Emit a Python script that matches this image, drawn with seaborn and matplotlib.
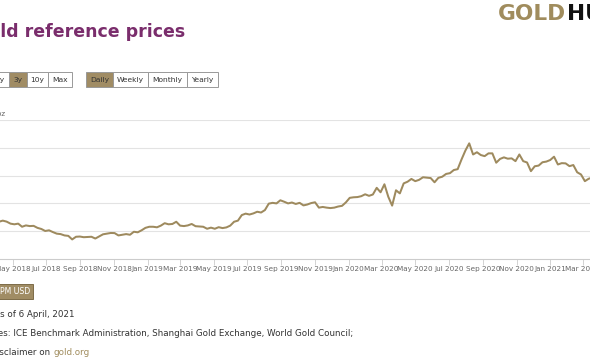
import matplotlib
matplotlib.use("Agg")
import matplotlib.pyplot as plt
import matplotlib.dates as mdates
from matplotlib.patches import Rectangle
import seaborn as sns
import pandas as pd

# ---------------- data ----------------
start_date = "2018-04-06"
n_weeks = 157
last_date = "2021-04-06"
prices_usd = [
    # 2018 (from Apr 6, weekly)
    1335, 1345, 1336, 1318, 1312, 1318, 1290, 1302, 1296, 1298, 1280, 1270, 1252,
    1258, 1242, 1228, 1224, 1212, 1208, 1176, 1200, 1202, 1196, 1198, 1200, 1184,
    1203, 1222, 1228, 1234, 1233, 1212, 1218, 1224, 1218, 1245, 1240, 1258, 1280,
    # 2019
    1290, 1290, 1285, 1300, 1322, 1312, 1315, 1335, 1300, 1296, 1302, 1315, 1295,
    1292, 1290, 1272, 1282, 1272, 1286, 1278, 1284, 1300, 1335, 1345, 1395, 1408,
    1400, 1410, 1425, 1418, 1440, 1498, 1505, 1500, 1528, 1515, 1500, 1508, 1495,
    1505, 1482, 1490, 1503, 1510, 1462, 1468, 1462, 1458, 1462, 1472, 1478, 1509,
    # 2020
    1550, 1555, 1557, 1565, 1582, 1568, 1580, 1640, 1600, 1672, 1560, 1480, 1618,
    1590, 1680, 1695, 1720, 1700, 1712, 1735, 1732, 1728, 1690, 1730, 1740, 1765,
    1772, 1800, 1808, 1895, 1975, 2040, 1940, 1960, 1935, 1925, 1950, 1950, 1866,
    1900, 1914, 1902, 1905, 1880, 1940, 1880, 1868, 1790, 1834, 1840, 1870, 1876,
    # 2021
    1890, 1920, 1850, 1862, 1860, 1835, 1845, 1780, 1760, 1700, 1722, 1733, 1728,
    1729, 1740,
]
y_ticks = [1250, 1500, 1750, 2000, 2250]
y_min, y_max = 1000, 2250
title_text = "Gold reference prices"
unit_text = "US$/oz"
logo_parts = ["GOLD", "HUB"]
range_buttons = ["1y", "3y", "10y", "Max"]
range_selected = "3y"
freq_buttons = ["Daily", "Weekly", "Monthly", "Yearly"]
freq_selected = "Daily"
series_button = "PM USD"
asof_text = "As of 6 April, 2021"
sources_text = "Sources: ICE Benchmark Administration, Shanghai Gold Exchange, World Gold Council;"
disclaimer_text = "Disclaimer on "
disclaimer_link = "gold.org"

dates = list(pd.date_range(start_date, periods=n_weeks, freq="7D")) + [pd.Timestamp(last_date)]
df = pd.DataFrame({"date": dates, "price": prices_usd})

# ---------------- style ----------------
W, H = 590, 360
GOLD = "#9e8a5e"
PURPLE = "#7a2d6c"
DARK = "#333333"

sns.set_theme(style="white")
plt.rcParams["font.family"] = ["DejaVu Sans"]

def fx(x):
    return x / W

def fy(y):
    return 1 - y / H

fig = plt.figure(figsize=(W / 100, H / 100), dpi=100)
fig.patch.set_facecolor("white")

# plot area: x from -1.07 px (6 Apr 2018) to 602.5 px (6 Apr 2021); y 120..259 px
ax_left, ax_right = -1.07, 602.5
ax_top, ax_bottom = 120, 259
ax = fig.add_axes([fx(ax_left), fy(ax_bottom), (ax_right - ax_left) / W, (ax_bottom - ax_top) / H])

sns.lineplot(data=df, x="date", y="price", ax=ax, color=GOLD, linewidth=1.45)

ax.set_xlim(pd.Timestamp(start_date), pd.Timestamp(last_date))
ax.set_ylim(y_min, y_max)
ax.set_yticks(y_ticks)
ax.yaxis.grid(True, color="#e3e3e3", linewidth=0.8)
ax.xaxis.grid(False)
ax.tick_params(axis="y", left=False, labelleft=False)
ax.set_xlabel("")
ax.set_ylabel("")
for s in ["left", "right", "top"]:
    ax.spines[s].set_visible(False)
ax.spines["bottom"].set_color("#cccccc")
ax.spines["bottom"].set_linewidth(0.8)
ax.xaxis.set_major_locator(mdates.MonthLocator(bymonth=[1, 3, 5, 7, 9, 11]))
ax.xaxis.set_major_formatter(mdates.DateFormatter("%b %Y"))
ax.tick_params(axis="x", bottom=True, length=4.3, width=0.6, color="#cccccc",
               direction="out", pad=0.6, labelsize=5.2, labelcolor="#666666")
ax.set_facecolor("white")

# unit label
fig.text(fx(5.5), fy(116), unit_text, ha="right", va="baseline", fontsize=5.2, color="#666666")

# title
fig.text(fx(-26), fy(37), title_text, ha="left", va="baseline", fontsize=12.5,
         fontweight="bold", color=PURPLE)

# logo
t_gold = fig.text(fx(498), fy(20), logo_parts[0], ha="left", va="baseline", fontsize=15.6,
                  fontweight="bold", color="#a08c5d")
fig.canvas.draw()
bb = t_gold.get_window_extent(renderer=fig.canvas.get_renderer())
fig.text(bb.x1 / W + fx(0.5), fy(20), logo_parts[1], ha="left", va="baseline", fontsize=15.6,
         fontweight="bold", color="#111111")

# buttons
def button(x0, x1, y0, y1, label, selected, text_color=DARK, fs=5.4, fill=None):
    fc = fill if fill is not None else ("#a08c64" if selected else "white")
    fig.patches.append(Rectangle((fx(x0), fy(y1)), fx(x1) - fx(x0), fy(y0) - fy(y1),
                                 transform=fig.transFigure, facecolor=fc,
                                 edgecolor="#999999", linewidth=0.7, zorder=2))
    fig.text(fx((x0 + x1) / 2), fy((y0 + y1) / 2 + 0.5), label, ha="center", va="center",
             fontsize=fs, color=text_color, zorder=3)

range_edges = [-9, 9, 27, 48, 72]
for i, lab in enumerate(range_buttons):
    button(range_edges[i], range_edges[i + 1], 72, 87, lab, lab == range_selected)
freq_edges = [86, 113, 148, 187, 218]
for i, lab in enumerate(freq_buttons):
    button(freq_edges[i], freq_edges[i + 1], 72, 87, lab, lab == freq_selected)

# series button (left part cut off)
fig.patches.append(Rectangle((fx(-40), fy(299)), fx(33) - fx(-40), fy(284) - fy(299),
                             transform=fig.transFigure, facecolor="#a08c64",
                             edgecolor="#7d6c48", linewidth=0.7))
fig.text(fx(30), fy(291.5), series_button, ha="right", va="center", fontsize=5.6, color="white")

# footer texts (left parts cut off like the reference)
fig.text(fx(74), fy(317), asof_text, ha="right", va="baseline", fontsize=6.3, color=DARK)
fig.text(fx(353), fy(336), sources_text, ha="right", va="baseline", fontsize=6.3, color=DARK)
fig.text(fx(53), fy(355), disclaimer_text, ha="right", va="baseline", fontsize=6.3, color=DARK)
fig.text(fx(53), fy(355), disclaimer_link, ha="left", va="baseline", fontsize=6.3, color="#a08c5d")

fig.savefig("out.png", dpi=100, facecolor="white")
